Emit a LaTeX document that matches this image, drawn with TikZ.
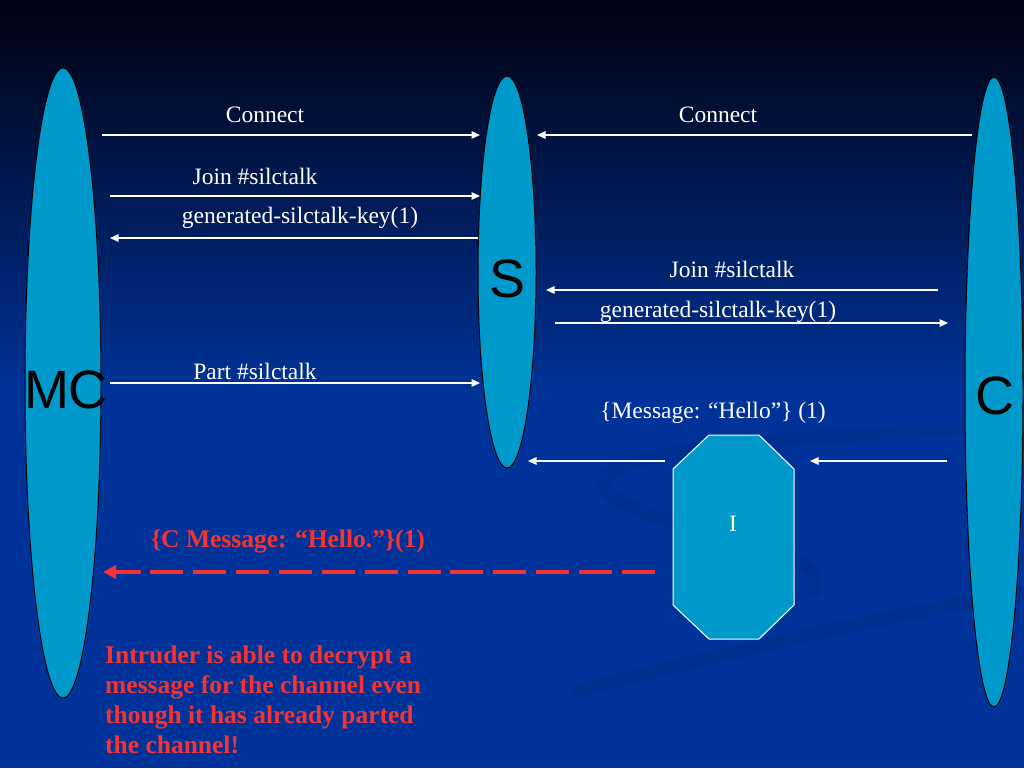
\documentclass[tikz,border=0pt]{standalone}
\usepackage{fontspec}
\setmainfont{Liberation Serif}
\newfontfamily\peerfont{Liberation Sans}
\usetikzlibrary{arrows.meta,shapes.geometric}
\definecolor{slidetop}{HTML}{00020F}
\definecolor{slideblue}{HTML}{00339A}
\definecolor{swirlblue}{HTML}{002A84}
\definecolor{peerblue}{HTML}{0099CC}
\definecolor{alertred}{HTML}{F53333}
\begin{document}
\begin{tikzpicture}[x=1pt,y=-1pt,font=\fontsize{23.5}{28}\selectfont,
  msg/.style={draw=white,line width=1.3pt,-{Triangle[length=8.5pt,width=7.5pt]}},
  lbl/.style={text=white,inner sep=0pt},
  peer/.style={ellipse,fill=peerblue,draw=black,line width=1pt,inner sep=0pt},
  peername/.style={font=\peerfont\fontsize{54}{60}\selectfont,inner sep=0pt},
  swirl/.style={swirlblue,line width=14pt,line cap=round,opacity=0.35},
  leak/.style={alertred,line width=4.5pt},
  warn/.style={text=alertred,font=\bfseries\fontsize{25.5}{30}\selectfont,inner sep=0pt}]
	\useasboundingbox (0,0) rectangle (1024,768);
	% background
	\shade[top color=slidetop,bottom color=slideblue] (0,0) rectangle (1024,400);
	\fill[slideblue] (0,400) rectangle (1024,768);
	\draw[swirl] (1030,428) .. controls (820,432) and (560,450) .. (610,495) .. controls (660,535) and (830,540) .. (815,590);
	\draw[swirl] (580,690) .. controls (720,655) and (880,615) .. (1030,592);
	% the three peers
	\node[peer,minimum width=76pt,minimum height=630pt] (MC) at (63,383) {};
	\node[peer,minimum width=58pt,minimum height=392pt] (S) at (507,272) {};
	\node[peer,minimum width=58pt,minimum height=630pt] (C) at (994,392) {};
	\node[peername] (MCname) at (66,390) {MC};
	\node[peername] (Sname) at (508,279) {S};
	\node[peername] (Cname) at (995,396) {C};
	% the intruder
	\draw[fill=peerblue,draw=white,line width=1pt] (709,435) -- (759,435) -- (794,469) -- (794,605) -- (759,639) -- (709,639) -- (673,605) -- (673,469) -- cycle;
	\node[lbl] (I) at (733,524) {I};
	% ends of the messages
	\path (102,135) coordinate (A1) (480,135) coordinate (B1)
	(972,135) coordinate (A2) (537,135) coordinate (B2)
	(110,196) coordinate (A3) (480,196) coordinate (B3)
	(478,238) coordinate (A4) (110,238) coordinate (B4)
	(938,290) coordinate (A5) (546,290) coordinate (B5)
	(555,323) coordinate (A6) (948,323) coordinate (B6)
	(110,383) coordinate (A7) (480,383) coordinate (B7)
	(665,461) coordinate (A8) (528,461) coordinate (B8)
	(947,461) coordinate (A9) (810,461) coordinate (B9)
	(655,572) coordinate (A10) (140,572) coordinate (D10) (103,572) coordinate (B10);
	\foreach \i in {1,...,9}
	\draw[msg] (A\i) -- (B\i);
	\draw[leak,dash pattern=on 33pt off 9.9pt] (A10) -- (D10);
	\draw[leak,-{Triangle[length=13pt,width=13pt]}] (D10) -- (B10);
	% labels
	\foreach \n/\x/\y/\t in {l1/265/115/Connect,l2/718/115/Connect,l3/255/176/Join \#silctalk,l4/300/218/generated-silctalk-key(1),l5/732/269/Join \#silctalk,l6/718/312/generated-silctalk-key(1),l7/255/371/Part \#silctalk}
	\node[lbl] (\n) at (\x,\y) {\t};
	\node[lbl] (l8) at (713,413) {\{Message: “Hello”\} (1)};
	\node[warn] (l9) at (288,541) {\{C Message: “Hello.”\}(1)};
	\node[warn,anchor=north west,align=left] (note) at (105,646) {Intruder is able to decrypt a\\message for the channel even\\though it has already parted\\the channel!};
\end{tikzpicture}
\end{document}
